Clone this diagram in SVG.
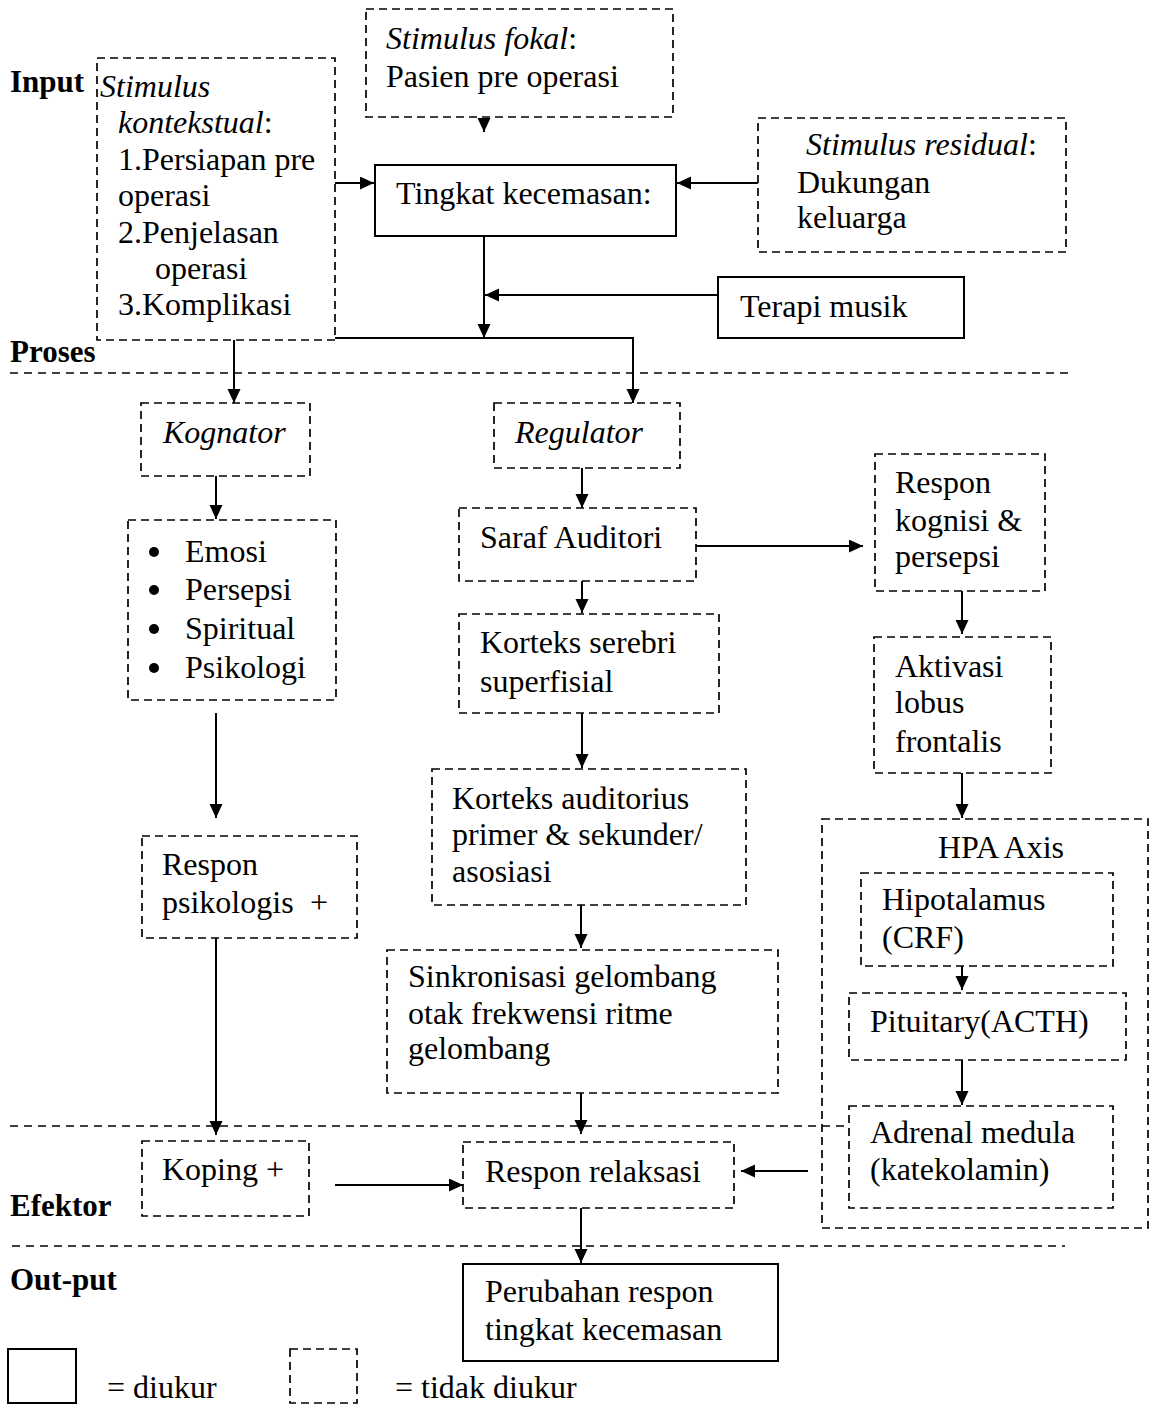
<svg xmlns="http://www.w3.org/2000/svg" width="1154" height="1404" viewBox="0 0 1154 1404">
<style>
text{font-family:"Liberation Serif","Times New Roman",serif;font-size:32px;fill:#000}
.b{font-weight:bold;font-size:31px}
.i{font-style:italic}
.solid{fill:#fff;stroke:#000;stroke-width:2}
.dash{fill:#fff;stroke:#000;stroke-width:1.7;stroke-dasharray:8 5}
.frame{fill:none;stroke:#000;stroke-width:1.7;stroke-dasharray:8 5}
.sep{fill:none;stroke:#000;stroke-width:1.6;stroke-dasharray:8 6}
.con{fill:none;stroke:#000;stroke-width:2;marker-end:url(#ah)}
</style>
<defs>
<marker id="ah" markerUnits="userSpaceOnUse" markerWidth="15" markerHeight="14" refX="14" refY="6.5" orient="auto">
<path d="M0,0 L14,6.5 L0,13 z" fill="#000"/>
</marker>
</defs>
<rect width="1154" height="1404" fill="#fff"/>

<g id="labels">
<text class="b" x="10" y="92">Input</text>
<text class="b" x="10" y="362">Proses</text>
<text class="b" x="10" y="1216">Efektor</text>
<text class="b" x="10" y="1290">Out-put</text>
</g>

<g id="separators">
<line class="sep" x1="10" y1="373" x2="1068" y2="373"/>
<line class="sep" x1="10" y1="1126" x2="849" y2="1126"/>
<line class="sep" x1="12" y1="1246" x2="1065" y2="1246"/>
</g>

<g id="connectors">
<path class="con" d="M335,183 L374,183"/>
<path class="con" d="M758,183 L677,183"/>
<path class="con" d="M484,118 L484,132"/>
<path class="con" d="M484,236 L484,338"/>
<path class="con" d="M718,295 L485,295"/>
<path class="con" d="M484,338 L234,338 L234,403"/>
<path class="con" d="M484,338 L633,338 L633,403"/>
<path class="con" d="M216,476 L216,519"/>
<path class="con" d="M216,713 L216,818"/>
<path class="con" d="M216,938 L216,1135"/>
<path class="con" d="M335,1185 L463,1185"/>
<path class="con" d="M582,468 L582,508"/>
<path class="con" d="M696,546 L863,546"/>
<path class="con" d="M582,581 L582,613"/>
<path class="con" d="M582,713 L582,768"/>
<path class="con" d="M581,905 L581,948"/>
<path class="con" d="M581,1093 L581,1134"/>
<path class="con" d="M808,1171 L741,1171"/>
<path class="con" d="M581,1208 L581,1263"/>
<path class="con" d="M962,591 L962,634"/>
<path class="con" d="M962,773 L962,818"/>
<path class="con" d="M962,953 L962,990"/>
<path class="con" d="M962,1060 L962,1105"/>
</g>

<g id="stimulus-kontekstual">
<rect class="dash" x="97" y="58" width="238" height="282"/>
<text class="i" x="100" y="97">Stimulus</text>
<text x="118" y="133"><tspan class="i">kontekstual</tspan>:</text>
<text x="118" y="170">1.Persiapan pre</text>
<text x="118" y="206">operasi</text>
<text x="118" y="243">2.Penjelasan</text>
<text x="155" y="279">operasi</text>
<text x="118" y="315">3.Komplikasi</text>
</g>

<g id="stimulus-fokal">
<rect class="dash" x="366" y="9" width="307" height="108"/>
<text x="386" y="49"><tspan class="i">Stimulus fokal</tspan>:</text>
<text x="386" y="87">Pasien pre operasi</text>
</g>

<g id="tingkat-kecemasan">
<rect class="solid" x="375" y="165" width="301" height="71"/>
<text x="396" y="204">Tingkat kecemasan:</text>
</g>

<g id="stimulus-residual">
<rect class="dash" x="758" y="118" width="308" height="134"/>
<text x="806" y="155"><tspan class="i">Stimulus residual</tspan>:</text>
<text x="797" y="193">Dukungan</text>
<text x="797" y="228">keluarga</text>
</g>

<g id="terapi-musik">
<rect class="solid" x="718" y="277" width="246" height="61"/>
<text x="740" y="317">Terapi musik</text>
</g>

<g id="kognator">
<rect class="dash" x="141" y="403" width="169" height="73"/>
<text class="i" x="163" y="443">Kognator</text>
</g>

<g id="kognator-items">
<rect class="dash" x="128" y="520" width="208" height="180"/>
<circle cx="154" cy="552" r="5"/>
<circle cx="154" cy="590" r="5"/>
<circle cx="154" cy="629" r="5"/>
<circle cx="154" cy="668" r="5"/>
<text x="185" y="562">Emosi</text>
<text x="185" y="600">Persepsi</text>
<text x="185" y="639">Spiritual</text>
<text x="185" y="678">Psikologi</text>
</g>

<g id="respon-psikologis">
<rect class="dash" x="142" y="836" width="215" height="102"/>
<text x="162" y="875">Respon</text>
<text x="162" y="913">psikologis<tspan x="310">+</tspan></text>
</g>

<g id="koping">
<rect class="dash" x="142" y="1141" width="167" height="75"/>
<text x="162" y="1180">Koping +</text>
</g>

<g id="regulator">
<rect class="dash" x="494" y="403" width="186" height="65"/>
<text class="i" x="515" y="443">Regulator</text>
</g>

<g id="saraf-auditori">
<rect class="dash" x="459" y="508" width="237" height="73"/>
<text x="480" y="548">Saraf Auditori</text>
</g>

<g id="korteks-serebri">
<rect class="dash" x="459" y="614" width="260" height="99"/>
<text x="480" y="653">Korteks serebri</text>
<text x="480" y="692">superfisial</text>
</g>

<g id="korteks-auditorius">
<rect class="dash" x="432" y="769" width="314" height="136"/>
<text x="452" y="809">Korteks auditorius</text>
<text x="452" y="845">primer &amp; sekunder/</text>
<text x="452" y="882">asosiasi</text>
</g>

<g id="sinkronisasi">
<rect class="dash" x="387" y="950" width="391" height="143"/>
<text x="408" y="987">Sinkronisasi gelombang</text>
<text x="408" y="1024">otak frekwensi ritme</text>
<text x="408" y="1059">gelombang</text>
</g>

<g id="respon-relaksasi">
<rect class="dash" x="463" y="1142" width="271" height="66"/>
<text x="485" y="1182">Respon relaksasi</text>
</g>

<g id="respon-kognisi">
<rect class="dash" x="875" y="454" width="170" height="137"/>
<text x="895" y="493">Respon</text>
<text x="895" y="531">kognisi &amp;</text>
<text x="895" y="567">persepsi</text>
</g>

<g id="aktivasi-lobus">
<rect class="dash" x="874" y="637" width="177" height="136"/>
<text x="895" y="677">Aktivasi</text>
<text x="895" y="713">lobus</text>
<text x="895" y="752">frontalis</text>
</g>

<g id="hpa-axis">
<rect class="frame" x="822" y="819" width="326" height="409"/>
<text x="938" y="858">HPA Axis</text>
</g>

<g id="hipotalamus">
<rect class="dash" x="861" y="873" width="252" height="93"/>
<text x="882" y="910">Hipotalamus</text>
<text x="882" y="948">(CRF)</text>
</g>

<g id="pituitary">
<rect class="dash" x="849" y="993" width="277" height="67"/>
<text x="870" y="1032">Pituitary(ACTH)</text>
</g>

<g id="adrenal">
<rect class="dash" x="849" y="1106" width="264" height="102"/>
<text x="870" y="1143">Adrenal medula</text>
<text x="870" y="1180">(katekolamin)</text>
</g>

<g id="perubahan-respon">
<rect class="solid" x="463" y="1264" width="315" height="97"/>
<text x="485" y="1302">Perubahan respon</text>
<text x="485" y="1340">tingkat kecemasan</text>
</g>

<g id="legend">
<rect class="solid" x="8" y="1349" width="68" height="54"/>
<text x="107" y="1398">= diukur</text>
<rect class="dash" x="290" y="1349" width="67" height="54"/>
<text x="395" y="1398">= tidak diukur</text>
</g>
</svg>
